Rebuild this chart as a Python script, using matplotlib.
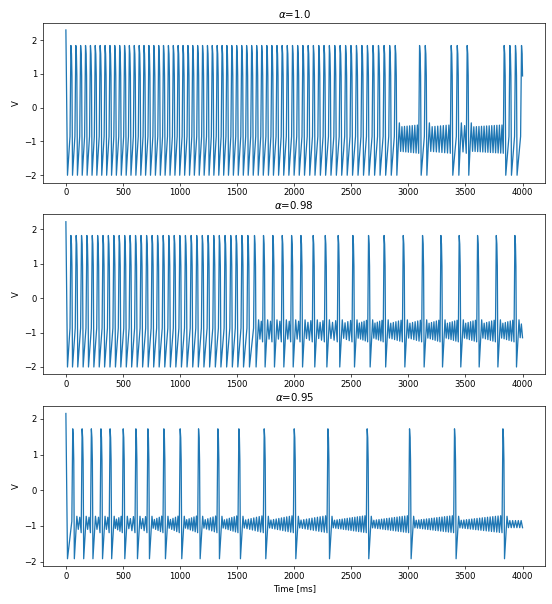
import matplotlib
matplotlib.use("Agg")
import matplotlib.pyplot as plt
import numpy as np

# spike peak times [ms], one list per panel
spikes_a100 = [44, 87, 129, 172, 215, 257, 300, 343, 386, 428, 471, 514, 556, 599,
               642, 684, 727, 770, 813, 855, 898, 941, 983, 1026, 1069, 1111, 1154,
               1197, 1240, 1282, 1325, 1368, 1410, 1453, 1496, 1540, 1583, 1627, 1671,
               1715, 1760, 1804, 1849, 1894, 1939, 1985, 2030, 2076, 2122, 2168, 2215,
               2261, 2308, 2355, 2402, 2450, 2497, 2545, 2593, 2641, 2690, 2738, 2787,
               2836, 2885, 3098, 3148, 3375, 3428, 3515, 3839, 3889, 3938, 3991]
spikes_a098 = [44, 90, 137, 184, 231, 278, 325, 372, 420, 467, 515, 562, 610, 658,
               707, 755, 803, 852, 901, 949, 998, 1047, 1097, 1146, 1195, 1245, 1295,
               1344, 1394, 1444, 1492, 1542, 1594, 1652, 1731, 1813, 1895, 1977, 2059,
               2166, 2272, 2385, 2514, 2651, 2787, 2955, 3124, 3285, 3445, 3606, 3770,
               3933]
spikes_a095 = [60, 142, 223, 307, 387, 502, 613, 718, 858, 1001, 1162, 1331, 1515,
               1737, 2000, 2295, 2639, 3010, 3404, 3828]

titles = [r"$\alpha$=1.0", r"$\alpha$=0.98", r"$\alpha$=0.95"]
v_start = [2.30, 2.22, 2.15]      # value at t=0
v_top = [1.84, 1.82, 1.72]        # spike peak
v_low = [-2.00, -2.00, -1.92]     # trough after spike
v_rest = [-0.93, -0.95, -0.95]    # centre of the small oscillations
osc_after = [0.36, 0.20, 0.10]    # half amplitude just after a spike
osc_before = [0.42, 0.32, 0.24]   # half amplitude just before a spike
y_ticks = [-2, -1, 0, 1, 2]
t_end = 4000.0

HALF = 11.5  # half period of the subthreshold wiggle [ms]


def wiggle(t, v, t0, t1, base, a0, a1):
    # alternate peak/trough vertices between t0 (peak) and t1 (trough)
    n = int(2 * round(((t1 - t0) / HALF - 1) / 2) + 1)
    n = max(n, 1)
    dt = (t1 - t0) / n
    for k in range(1, n + 1):
        a = a0 + (a1 - a0) * k / n
        t.append(t0 + k * dt)
        v.append(base - a if k % 2 == 1 else base + a)


def build_trace(i, spikes):
    t = [0.0, 14.0]
    v = [v_start[i], v_low[i]]
    trough = 14.0
    base = v_rest[i]
    for tp in spikes:
        up = tp - 8
        if up - trough > 45:
            rec = trough + 22
            t.append(rec)
            v.append(base + osc_after[i] + 0.12)
            wiggle(t, v, rec, up, base, osc_after[i], osc_before[i])
        else:
            t.append(up)
            v.append(base + 0.08)
        t += [tp, tp + 5, tp + 9, tp + 14]
        v += [v_top[i], v_top[i] - 0.25, v_top[i] - 0.9, v_low[i]]
        trough = tp + 14
    if trough + 30 < t_end:
        rec = trough + 22
        t.append(rec)
        v.append(base + osc_after[i] + 0.12)
        wiggle(t, v, rec, t_end, base, osc_after[i], osc_after[i])
    t = np.array(t)
    v = np.array(v)
    keep = t <= t_end
    if t[-1] > t_end:
        v_last = np.interp(t_end, t, v)
        return np.append(t[keep], t_end), np.append(v[keep], v_last)
    return t[keep], v[keep]


dpi = 552 / 9
fig, axes = plt.subplots(3, 1, figsize=(9, 604 / dpi), dpi=dpi)
fig.subplots_adjust(left=0.078, right=0.988, top=0.9624, bottom=0.0629, hspace=0.2)

for i, (ax, sp) in enumerate(zip(axes, [spikes_a100, spikes_a098, spikes_a095])):
    tt, vv = build_trace(i, sp)
    ax.plot(tt, vv, color="#1f77b4", lw=1.5)
    ax.set_title(titles[i])
    ax.set_ylabel("V")
    ax.set_xticks(np.arange(0, 4001, 500))
    ax.set_yticks(y_ticks)

axes[-1].set_xlabel("Time [ms]")

fig.savefig("out.png", dpi=dpi, facecolor="white")
